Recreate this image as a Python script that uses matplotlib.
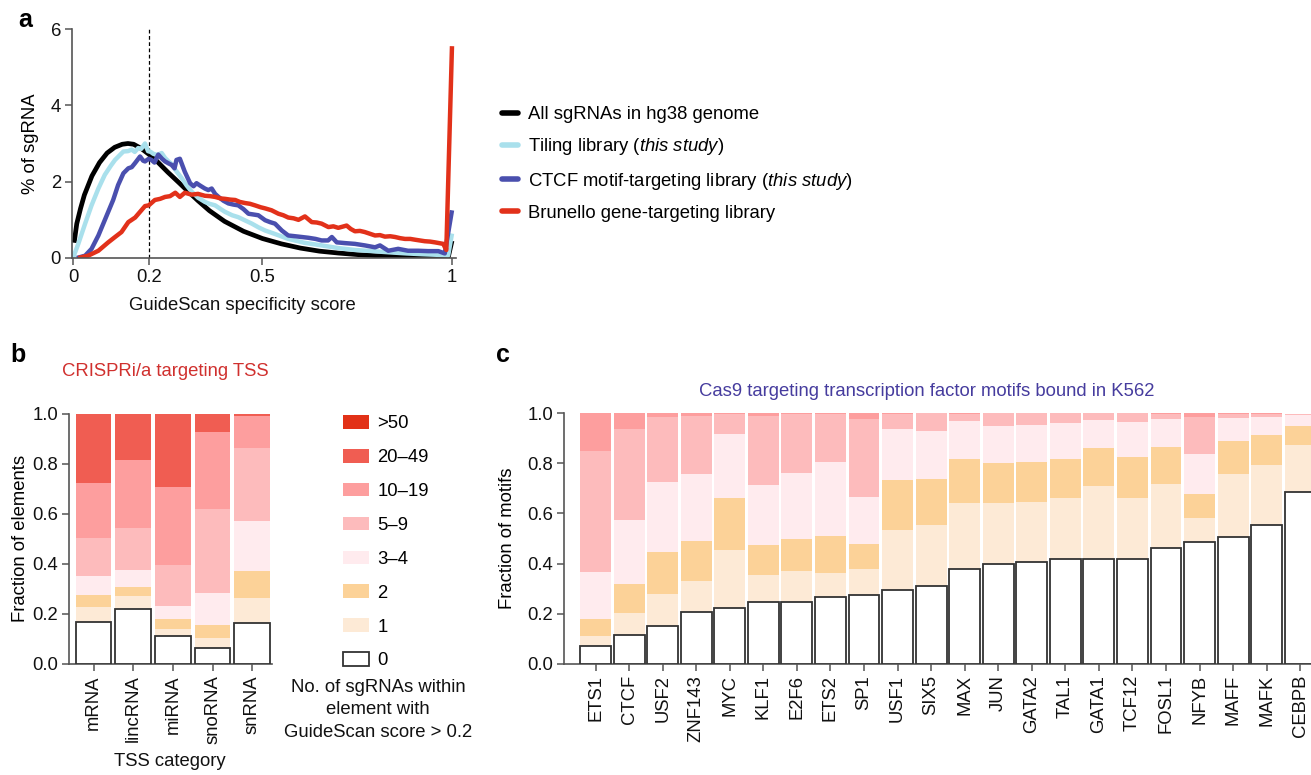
import matplotlib
matplotlib.use('Agg')
import matplotlib.pyplot as plt
from matplotlib.patches import Patch

plt.rcParams['font.family'] = ['Liberation Sans', 'DejaVu Sans']
plt.rcParams['mathtext.fontset'] = 'custom'
plt.rcParams['mathtext.rm'] = 'Liberation Sans'
plt.rcParams['mathtext.it'] = 'Liberation Sans:italic'

# ---------------- data: panel a (score, % of sgRNA) ----------------
all_hg38 = [(0.003, 0.40), (0.01, 0.90), (0.02, 1.30), (0.03, 1.65), (0.05, 2.15), (0.07, 2.50),
            (0.09, 2.75), (0.11, 2.90), (0.13, 2.98), (0.145, 3.00), (0.16, 2.98), (0.18, 2.87),
            (0.20, 2.72), (0.22, 2.55), (0.25, 2.25), (0.28, 1.97), (0.30, 1.78), (0.33, 1.50),
            (0.36, 1.24), (0.40, 0.96), (0.45, 0.70), (0.50, 0.51), (0.55, 0.37), (0.60, 0.26),
            (0.65, 0.18), (0.70, 0.13), (0.75, 0.09), (0.80, 0.06), (0.85, 0.04), (0.90, 0.03),
            (0.95, 0.02), (0.99, 0.015), (1.0, 0.45)]
tiling = [(0.0, 0.0), (0.014, 0.37), (0.032, 0.90), (0.049, 1.38), (0.067, 1.82), (0.084, 2.18),
          (0.10, 2.42), (0.111, 2.57), (0.122, 2.68), (0.133, 2.79), (0.145, 2.80), (0.155, 2.84),
          (0.163, 2.78), (0.172, 2.88), (0.18, 2.86), (0.19, 3.00), (0.198, 2.80), (0.205, 2.78),
          (0.212, 2.73), (0.222, 2.70), (0.234, 2.75), (0.243, 2.62), (0.252, 2.53), (0.262, 2.45),
          (0.27, 2.31), (0.287, 2.09), (0.30, 1.90), (0.313, 1.74), (0.33, 1.58), (0.348, 1.47),
          (0.36, 1.42), (0.375, 1.38), (0.39, 1.28), (0.401, 1.21), (0.42, 1.12), (0.436, 1.07),
          (0.455, 0.98), (0.472, 0.90), (0.49, 0.80), (0.507, 0.72), (0.53, 0.64), (0.568, 0.50),
          (0.61, 0.40), (0.656, 0.33), (0.70, 0.26), (0.744, 0.21), (0.79, 0.18), (0.832, 0.15),
          (0.88, 0.12), (0.92, 0.10), (0.97, 0.08), (0.99, 0.07), (1.0, 0.64)]
ctcf = [(0.01, 0.0), (0.032, 0.06), (0.049, 0.24), (0.067, 0.59), (0.08, 0.90), (0.093, 1.21),
        (0.106, 1.52), (0.119, 1.91), (0.133, 2.22), (0.146, 2.35), (0.155, 2.38), (0.164, 2.49),
        (0.177, 2.66), (0.185, 2.55), (0.19, 2.53), (0.20, 2.60), (0.207, 2.57), (0.215, 2.50),
        (0.225, 2.71), (0.235, 2.60), (0.243, 2.53), (0.252, 2.48), (0.26, 2.44), (0.268, 2.35),
        (0.273, 2.57), (0.282, 2.60), (0.295, 2.26), (0.309, 1.96), (0.318, 1.88), (0.326, 1.96),
        (0.335, 1.90), (0.348, 1.82), (0.357, 1.78), (0.366, 1.82), (0.375, 1.68), (0.384, 1.60),
        (0.397, 1.50), (0.41, 1.43), (0.423, 1.40), (0.436, 1.38), (0.45, 1.28), (0.463, 1.16),
        (0.476, 1.14), (0.489, 1.12), (0.507, 0.99), (0.52, 0.94), (0.533, 0.90), (0.551, 0.72),
        (0.568, 0.59), (0.595, 0.56), (0.621, 0.53), (0.64, 0.50), (0.656, 0.46), (0.673, 0.46),
        (0.683, 0.55), (0.696, 0.41), (0.718, 0.39), (0.744, 0.37), (0.77, 0.33), (0.797, 0.28),
        (0.81, 0.33), (0.832, 0.19), (0.858, 0.24), (0.884, 0.19), (0.911, 0.19), (0.937, 0.18),
        (0.964, 0.18), (0.981, 0.12), (1.0, 1.25)]
brunello = [(0.014, 0.0), (0.04, 0.06), (0.067, 0.19), (0.093, 0.41), (0.111, 0.55), (0.128, 0.68),
            (0.146, 0.94), (0.164, 1.06), (0.177, 1.21), (0.19, 1.36), (0.20, 1.38), (0.216, 1.52),
            (0.23, 1.55), (0.243, 1.60), (0.256, 1.62), (0.27, 1.71), (0.282, 1.60), (0.295, 1.71),
            (0.313, 1.66), (0.33, 1.68), (0.348, 1.63), (0.362, 1.62), (0.375, 1.60), (0.39, 1.56),
            (0.401, 1.55), (0.415, 1.53), (0.428, 1.52), (0.44, 1.47), (0.454, 1.44), (0.467, 1.42),
            (0.48, 1.38), (0.495, 1.33), (0.507, 1.30), (0.524, 1.25), (0.542, 1.16), (0.555, 1.12),
            (0.568, 1.06), (0.582, 1.04), (0.595, 1.00), (0.612, 1.09), (0.63, 0.94), (0.643, 0.93),
            (0.656, 0.90), (0.674, 0.81), (0.687, 0.83), (0.70, 0.79), (0.722, 0.85), (0.733, 0.76),
            (0.744, 0.70), (0.757, 0.71), (0.77, 0.68), (0.785, 0.63), (0.797, 0.59), (0.81, 0.60),
            (0.823, 0.56), (0.837, 0.57), (0.85, 0.55), (0.863, 0.52), (0.876, 0.50), (0.89, 0.50),
            (0.902, 0.48), (0.915, 0.46), (0.928, 0.44), (0.942, 0.43), (0.955, 0.41), (0.966, 0.39),
            (0.977, 0.37), (0.985, 0.21), (1.0, 5.55)]
series_names = ['All sgRNAs in hg38 genome', r'Tiling library ($\it{this\ study}$)',
                r'CTCF motif-targeting library ($\it{this\ study}$)', 'Brunello gene-targeting library']
series_colors = ['#000000', '#A9E0EC', '#4A4FAE', '#E2311A']

# ---------------- data: bins ----------------
bins = ['0', '1', '2', '3–4', '5–9', '10–19', '20–49', '>50']
bin_colors = ['#FFFFFF', '#FDEAD6', '#FCD298', '#FFEBEE', '#FDBBBC', '#FD9E9E', '#F05D52', '#E23117']

# panel b: fraction of elements per bin
tss_cats = ['mRNA', 'lincRNA', 'miRNA', 'snoRNA', 'snRNA']
tss_0 = [0.166, 0.221, 0.110, 0.065, 0.165]
tss_1 = [0.063, 0.052, 0.031, 0.040, 0.100]
tss_2 = [0.048, 0.036, 0.040, 0.052, 0.107]
tss_3_4 = [0.075, 0.067, 0.052, 0.128, 0.200]
tss_5_9 = [0.152, 0.168, 0.163, 0.335, 0.291]
tss_10_19 = [0.219, 0.271, 0.311, 0.307, 0.128]
tss_20_49 = [0.274, 0.182, 0.293, 0.073, 0.006]
tss_50 = [0.003, 0.003, 0.0, 0.0, 0.003]

# panel c: fraction of motifs per bin
tfs = ['ETS1', 'CTCF', 'USF2', 'ZNF143', 'MYC', 'KLF1', 'E2F6', 'ETS2', 'SP1', 'USF1', 'SIX5',
       'MAX', 'JUN', 'GATA2', 'TAL1', 'GATA1', 'TCF12', 'FOSL1', 'NFYB', 'MAFF', 'MAFK', 'CEBPB']
tf_0 = [0.070, 0.117, 0.152, 0.207, 0.224, 0.246, 0.248, 0.268, 0.274, 0.293, 0.310,
        0.377, 0.400, 0.407, 0.417, 0.420, 0.420, 0.461, 0.486, 0.506, 0.555, 0.687]
tf_1 = [0.041, 0.086, 0.125, 0.123, 0.229, 0.108, 0.122, 0.094, 0.103, 0.239, 0.242,
        0.263, 0.242, 0.239, 0.245, 0.290, 0.242, 0.257, 0.097, 0.252, 0.238, 0.186]
tf_2 = [0.068, 0.115, 0.168, 0.159, 0.207, 0.119, 0.127, 0.147, 0.100, 0.203, 0.187,
        0.177, 0.159, 0.159, 0.155, 0.151, 0.163, 0.147, 0.095, 0.131, 0.120, 0.075]
tf_3_4 = [0.187, 0.254, 0.282, 0.266, 0.258, 0.242, 0.262, 0.294, 0.187, 0.203, 0.191,
          0.151, 0.147, 0.147, 0.143, 0.111, 0.139, 0.111, 0.159, 0.091, 0.071, 0.044]
tf_5_9 = [0.483, 0.366, 0.258, 0.234, 0.079, 0.274, 0.236, 0.194, 0.313, 0.059, 0.070,
          0.029, 0.052, 0.048, 0.040, 0.028, 0.036, 0.021, 0.148, 0.018, 0.014, 0.006]
tf_10_19 = [0.151, 0.062, 0.015, 0.011, 0.003, 0.011, 0.005, 0.003, 0.023, 0.003, 0.0,
            0.003, 0.0, 0.0, 0.0, 0.0, 0.0, 0.003, 0.015, 0.002, 0.002, 0.0]

W, H = 1311, 775
FS = 13.3
fig = plt.figure(figsize=(W / 100, H / 100), dpi=100)


def ax_px(l, t, r, b):
    return fig.add_axes([l / W, 1 - b / H, (r - l) / W, (b - t) / H])


def style(ax):
    for s in ['top', 'right']:
        ax.spines[s].set_visible(False)
    for s in ['left', 'bottom']:
        ax.spines[s].set_color('#555555')
        ax.spines[s].set_linewidth(1.2)
    ax.tick_params(direction='out', length=5, width=1.1, color='#555555',
                   labelsize=FS, pad=3, labelcolor='#111111')


# ---------------- panel a ----------------
axa = ax_px(72, 29, 456, 258)
style(axa)
axa.axvline(0.2, ymin=0, ymax=1, color='black', lw=0.9, ls=(0, (3, 2)))
handles = []
for data, name, col, lw in zip([all_hg38, tiling, ctcf, brunello], series_names, series_colors,
                               [3.4, 3.2, 3.2, 3.2]):
    xs = [p[0] for p in data]
    ys = [p[1] for p in data]
    ln, = axa.plot(xs, ys, color=col, lw=lw, label=name, solid_joinstyle='round',
                   solid_capstyle='butt')
    handles.append(ln)
axa.set_xlim(-0.0026, 1.0106)
axa.set_ylim(0, 6)
axa.set_xticks([0, 0.2, 0.5, 1])
axa.set_xticklabels(['0', '0.2', '0.5', '1'])
axa.set_yticks([0, 2, 4, 6])
axa.set_ylabel('% of sgRNA', fontsize=FS, labelpad=8)
fig.text(242 / W, 1 - 305 / H, 'GuideScan specificity score', ha='center', va='center',
         fontsize=FS, color='#111111')

leg_a = fig.legend(handles=handles, loc='upper left', bbox_to_anchor=(502 / W, 1 - 106 / H),
                   frameon=False, fontsize=FS, handlelength=0.85, handletextpad=0.55,
                   labelspacing=0.72, borderpad=0, borderaxespad=0)
for lh in leg_a.get_lines():
    lh.set_linewidth(4)
    lh.set_solid_capstyle('round')

# ---------------- panel b ----------------
axb = ax_px(69, 413.7, 272, 664)
style(axb)
tss_bins = [tss_0, tss_1, tss_2, tss_3_4, tss_5_9, tss_10_19, tss_20_49, tss_50]
xb = list(range(len(tss_cats)))
bottom = [0.0] * len(tss_cats)
for i, vals in enumerate(tss_bins):
    if i == 0:
        axb.bar(xb, vals, width=0.9, bottom=bottom, color='white', edgecolor='#333333',
                linewidth=1.3, zorder=3)
    else:
        axb.bar(xb, vals, width=0.9, bottom=bottom, color=bin_colors[i], linewidth=0, zorder=2)
    bottom = [bo + v for bo, v in zip(bottom, vals)]
axb.set_xlim(-0.62, 4.5)
axb.set_ylim(0, 1)
axb.set_yticks([0, 0.2, 0.4, 0.6, 0.8, 1.0])
axb.set_yticklabels(['0.0', '0.2', '0.4', '0.6', '0.8', '1.0'])
axb.set_xticks(xb)
axb.set_xticklabels(tss_cats, rotation=90)
axb.set_ylabel('Fraction of elements', fontsize=FS, labelpad=2)
fig.text(170 / W, 1 - 761 / H, 'TSS category', ha='center', va='center',
         fontsize=FS, color='#111111')

leg_handles = []
for i in range(len(bins) - 1, -1, -1):
    if i == 0:
        leg_handles.append(Patch(facecolor='white', edgecolor='#333333', linewidth=1.3, label=bins[i]))
    else:
        leg_handles.append(Patch(facecolor=bin_colors[i], edgecolor='none', label=bins[i]))
fig.legend(handles=leg_handles, loc='upper left', bbox_to_anchor=(343 / W, 1 - 415 / H),
           frameon=False, fontsize=FS, handlelength=1.4, handleheight=0.76, handletextpad=0.45,
           labelspacing=0.9, borderpad=0, borderaxespad=0)
fig.text(378 / W, 1 - 710 / H, 'No. of sgRNAs within\nelement with\nGuideScan score > 0.2',
         ha='center', va='center', fontsize=FS, linespacing=1.42, color='#111111')

# ---------------- panel c ----------------
axc = ax_px(564, 413, 1317, 664)
style(axc)
tf_bins = [tf_0, tf_1, tf_2, tf_3_4, tf_5_9, tf_10_19]
xc = list(range(len(tfs)))
bottom = [0.0] * len(tfs)
for i, vals in enumerate(tf_bins):
    if i == 0:
        axc.bar(xc, vals, width=0.92, bottom=bottom, color='white', edgecolor='#333333',
                linewidth=1.3, zorder=3)
    else:
        axc.bar(xc, vals, width=0.92, bottom=bottom, color=bin_colors[i], linewidth=0, zorder=2)
    bottom = [bo + v for bo, v in zip(bottom, vals)]
axc.set_xlim(-0.94, 21.5)
axc.set_ylim(0, 1)
axc.set_yticks([0, 0.2, 0.4, 0.6, 0.8, 1.0])
axc.set_yticklabels(['0.0', '0.2', '0.4', '0.6', '0.8', '1.0'])
axc.set_xticks(xc)
axc.set_xticklabels(tfs, rotation=90)
axc.set_ylabel('Fraction of motifs', fontsize=FS, labelpad=8)

# ---------------- titles and panel letters ----------------
fig.text(165.5 / W, 1 - 371.5 / H, 'CRISPRi/a targeting TSS', ha='center', va='center',
         fontsize=FS, color='#D0302E')
fig.text(927 / W, 1 - 391 / H, 'Cas9 targeting transcription factor motifs bound in K562',
         ha='center', va='center', fontsize=FS, color='#463C9E')
fig.text(25 / W, 1 - 20 / H, 'a', ha='center', va='center', fontsize=18, fontweight='bold')
fig.text(17.5 / W, 1 - 355 / H, 'b', ha='center', va='center', fontsize=18, fontweight='bold')
fig.text(503 / W, 1 - 355 / H, 'c', ha='center', va='center', fontsize=18, fontweight='bold')

fig.savefig('out.png', dpi=100)
